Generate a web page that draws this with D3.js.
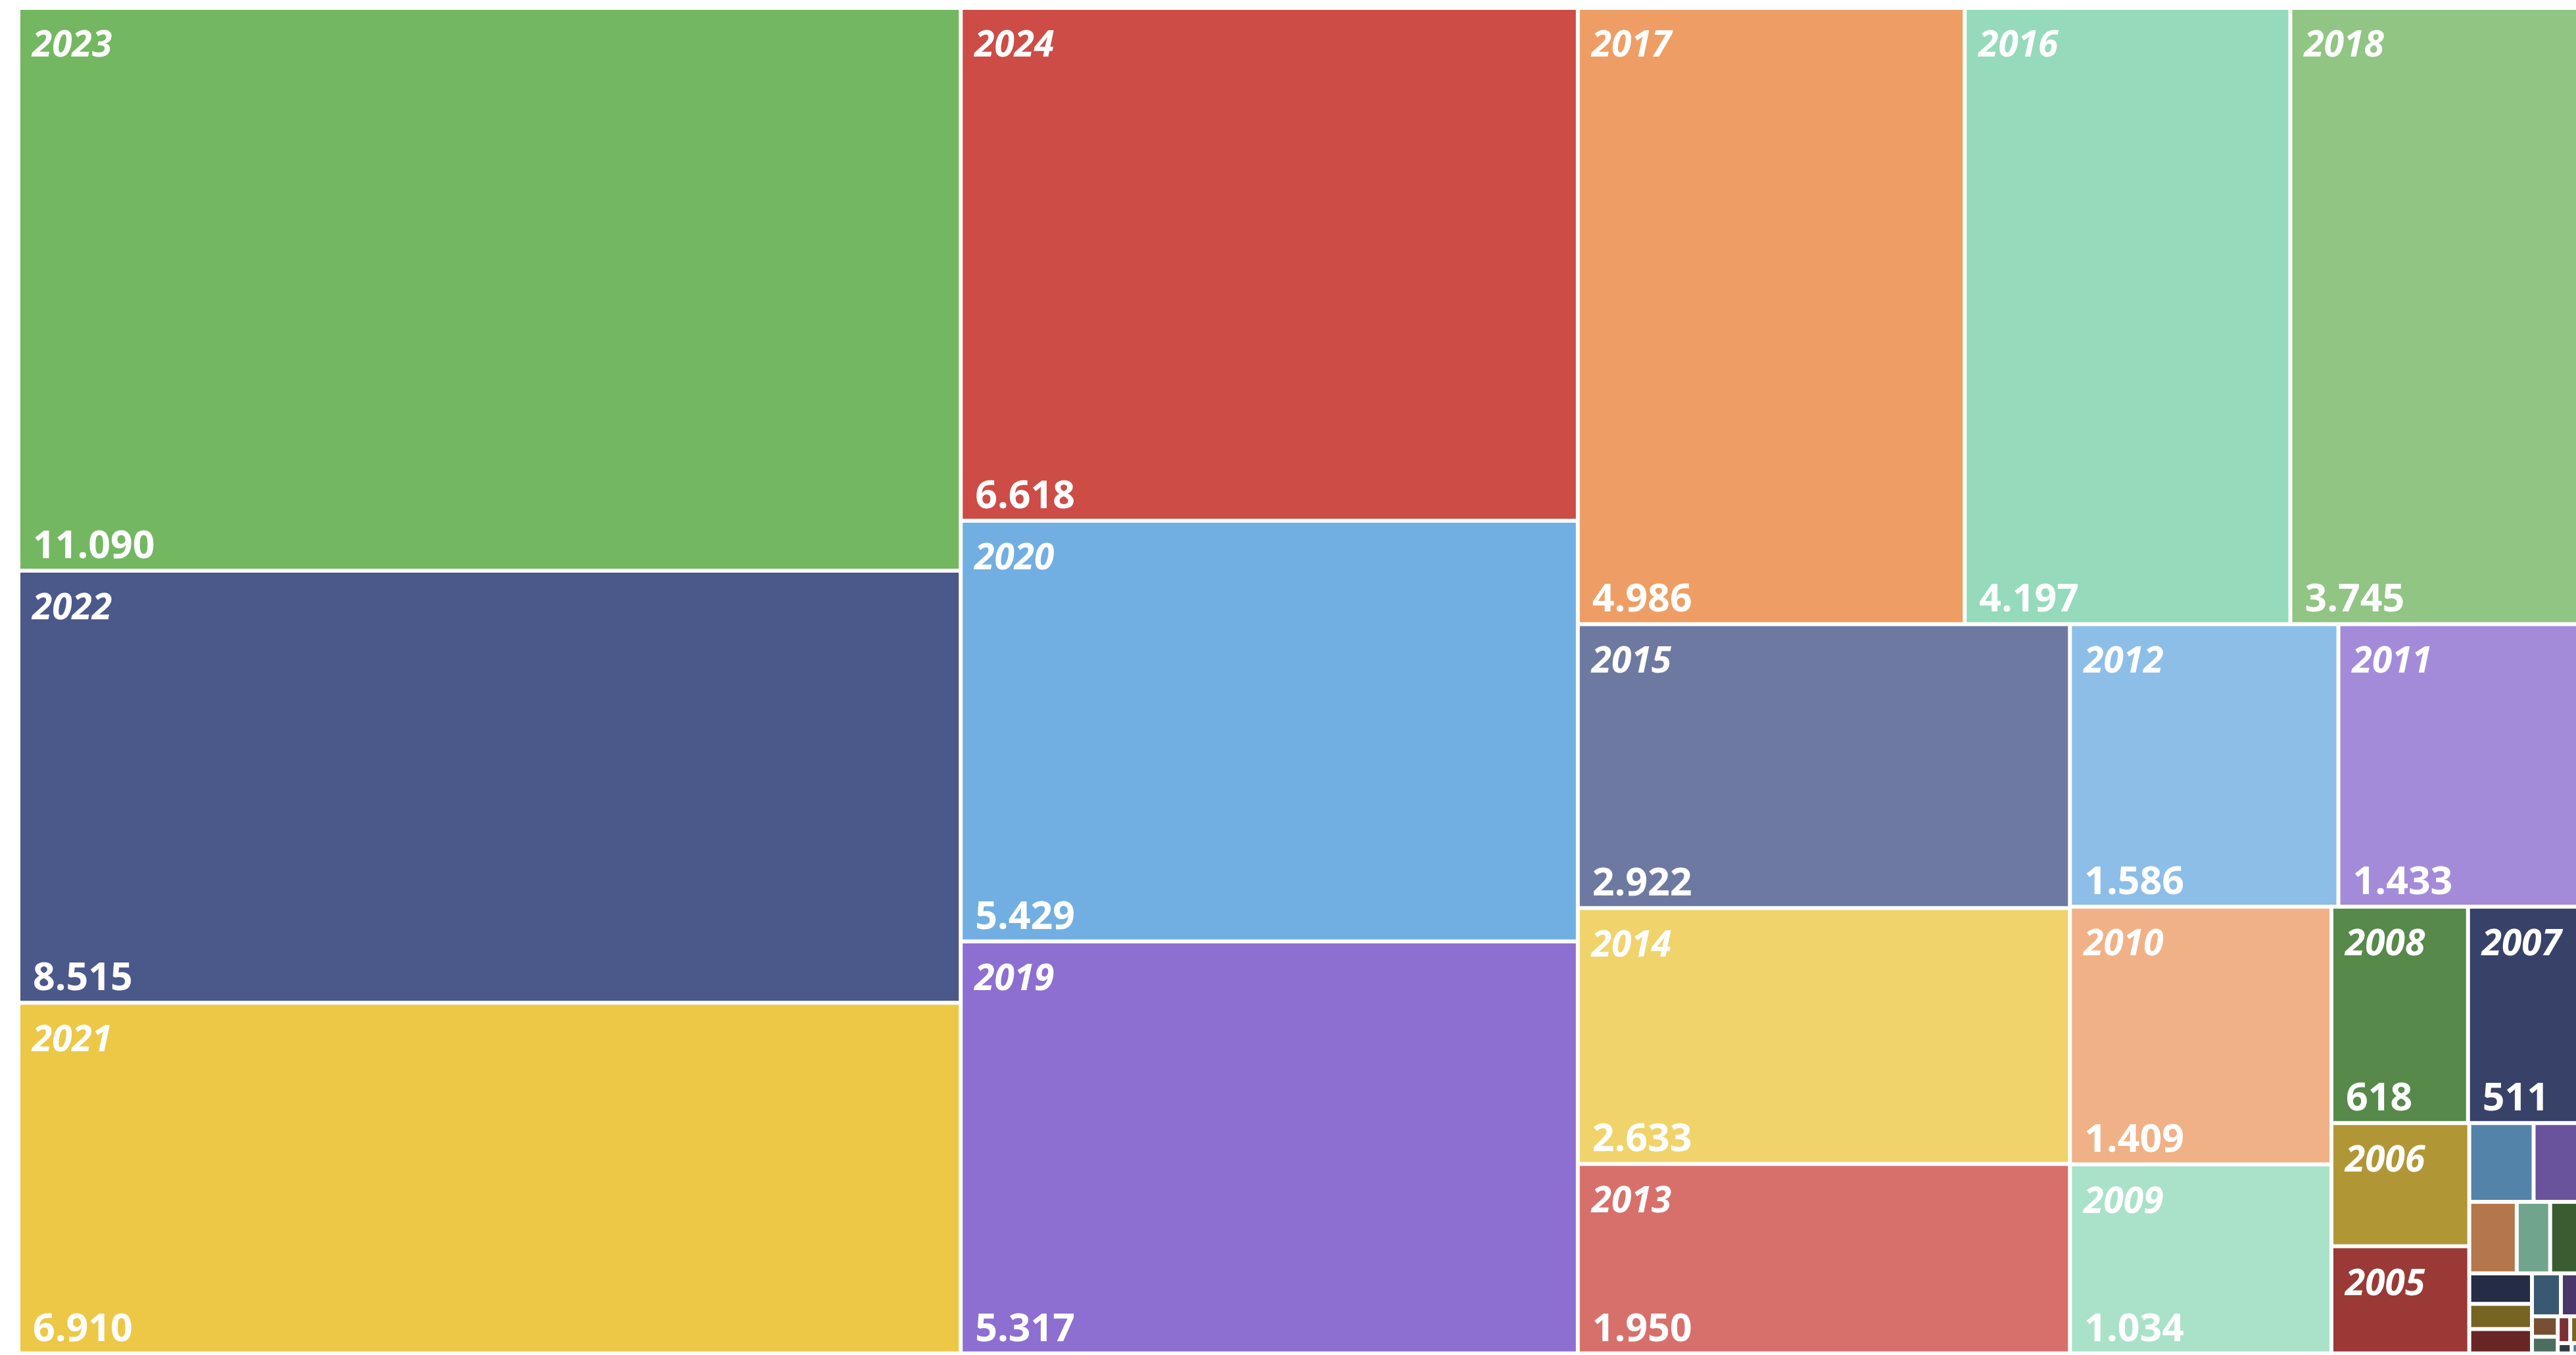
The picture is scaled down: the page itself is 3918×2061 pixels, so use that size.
<!DOCTYPE html>
<html>
<head>
<meta charset="utf-8">
<script src="https://cdn.jsdelivr.net/npm/d3@7"></script>
<style>
	html, body { margin: 0; padding: 0; background: #ffffff; overflow: hidden; }
	svg { display: block; }
	text { font-family: "Segoe UI", "Open Sans", sans-serif; fill: #ffffff; }
</style>
</head>
<body>
<script>
// categories (years), values and colours, ordered by value
let years = ["2023", "2022", "2021", "2024", "2020", "2019", "2017", "2016", "2018", "2015",
	"2014", "2013", "2012", "2011", "2010", "2009", "2008", "2007", "2006", "2005",
	"2004", "2003", "2002", "2001", "2000", "1999", "1998", "1997", "1996", "1995",
	"1994", "1993", "1992", "1991", "1990", "1989"];

let values = [11090, 8515, 6910, 6618, 5429, 5317, 4986, 4197, 3745, 2922,
	2633, 1950, 1586, 1433, 1409, 1034, 618, 511, 355, 309,
	106, 78, 71, 50, 46, 40, 33, 32, 26, 18,
	11, 9, 7, 6, 3, 2];

let colors = ["#73B761", "#4A588A", "#ECC846", "#CD4C46", "#71AFE2", "#8D6FD1", "#EE9E64", "#95DABB", "#90C583", "#6E79A1",
	"#F0D36B", "#D7706B", "#8DBEE8", "#A48BDA", "#F1B186", "#AAE2C9", "#56894A", "#384268", "#B19636", "#9A3936",
	"#5483AA", "#6A539D", "#B3774B", "#71A48C", "#3A5C31", "#252C45", "#766423", "#672624", "#395871", "#483769",
	"#784F32", "#4B6E5E", "#7E2F33", "#7B6221", "#33393C", "#4A7E95"];

let svgWidth = 3918;
let svgHeight = 2061;
let marginLeft = 31, marginTop = 15;
let mapWidth = 3891.5, mapHeight = 2040.6;

let fmt = d3.formatLocale({decimal: ",", thousands: ".", grouping: [3], currency: ["", ""]}).format(",d");

let data = {name: "root", children: years.map((y, i) => ({name: y, value: values[i], color: colors[i]}))};

let root = d3.hierarchy(data)
	.sum(d => d.value || 0)
	.sort((a, b) => b.value - a.value);

d3.treemap()
	.tile(d3.treemapSquarify)
	.size([mapWidth, mapHeight])
	.paddingInner(6)
	.round(false)(root);

let svg = d3.select("body").append("svg")
	.attr("width", svgWidth)
	.attr("height", svgHeight);

let g = svg.append("g").attr("transform", `translate(${marginLeft},${marginTop})`);

let cell = g.selectAll("g.cell").data(root.leaves()).enter().append("g")
	.attr("class", "cell")
	.attr("transform", d => `translate(${d.x0},${d.y0})`);

cell.append("rect")
	.attr("width", d => Math.max(0, d.x1 - d.x0))
	.attr("height", d => Math.max(0, d.y1 - d.y0))
	.attr("fill", d => d.data.color);

// year label, top left
cell.filter(d => (d.x1 - d.x0) >= 150 && (d.y1 - d.y0) >= 90)
	.append("text")
	.attr("x", 18)
	.attr("y", 71)
	.style("font-size", "55px")
	.style("font-weight", "bold")
	.style("font-style", "italic")
	.text(d => d.data.name);

// value label, bottom left
cell.filter(d => (d.x1 - d.x0) >= 150 && (d.y1 - d.y0) >= 200)
	.append("text")
	.attr("x", 19)
	.attr("y", d => (d.y1 - d.y0) - 16)
	.style("font-size", "59px")
	.style("font-weight", "bold")
	.text(d => fmt(d.data.value));
</script>
</body>
</html>
